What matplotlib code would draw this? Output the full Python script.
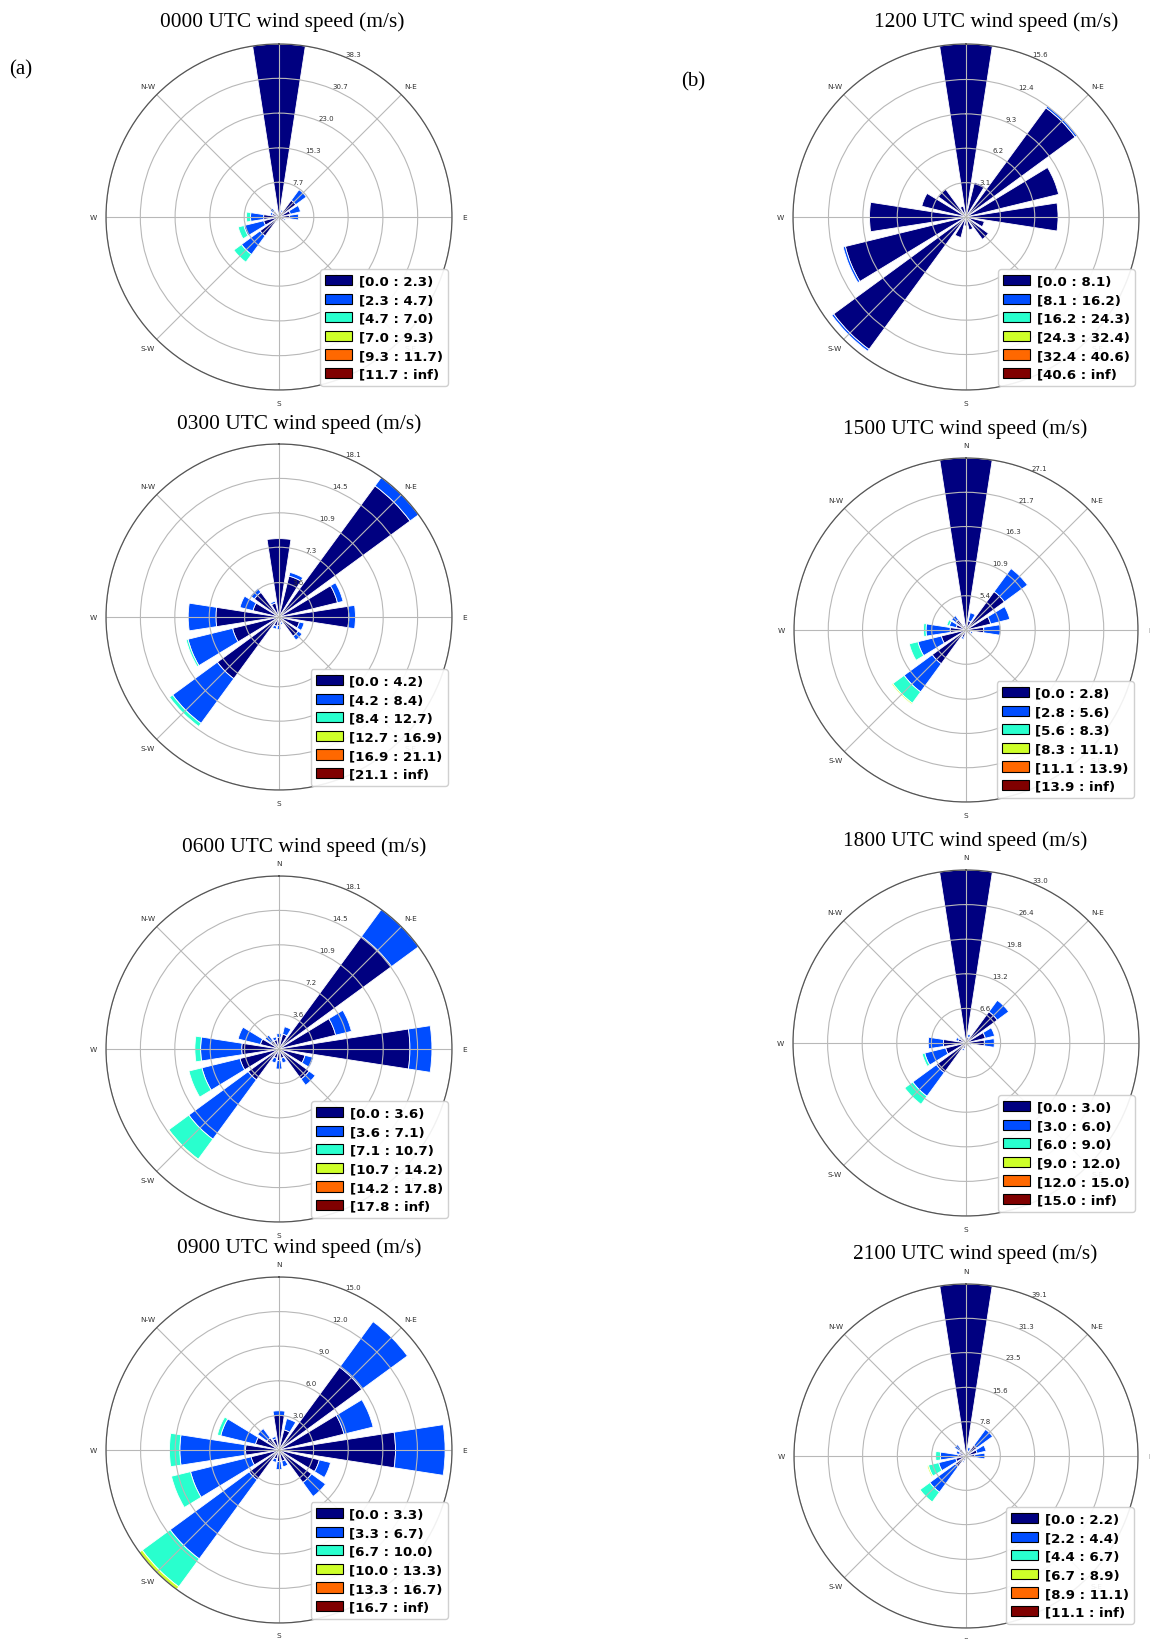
import numpy as np
import matplotlib
matplotlib.use("Agg")
import matplotlib.pyplot as plt
from matplotlib.patches import Rectangle

# 16 sectors, clockwise from North
directions = ["N", "NNE", "NE", "ENE", "E", "ESE", "SE", "SSE",
              "S", "SSW", "SW", "WSW", "W", "WNW", "NW", "NNW"]
compass_angles = [0, 45, 90, 135, 180, 225, 270, 315]
compass_labels = ["N", "N-E", "E", "S-E", "S", "S-W", "W", "N-W"]

# frequency (%) per speed bin (rows) and direction (columns)
freq_0000 = [
    [38.3, 1.2, 4.6, 2.6, 2.3, 1.2, 0.8, 0.5, 0.5, 1.0, 5.2, 3.5, 3.4, 1.5, 1.6, 0.8],
    [0.0, 0.4, 2.9, 2.3, 2.0, 0.3, 0.2, 0.0, 0.0, 0.3, 5.1, 4.5, 2.9, 0.5, 0.8, 0.2],
    [0.0, 0.0, 0.0, 0.0, 0.0, 0.0, 0.0, 0.0, 0.0, 0.0, 2.1, 1.3, 0.9, 0.0, 0.0, 0.0],
]
bins_0000 = [0.0, 2.3, 4.7, 7.0, 9.3, 11.7]
rings_0000 = ["7.7", "15.3", "23.0", "30.7", "38.3"]

freq_1200 = [
    [15.6, 3.2, 12.2, 8.6, 8.3, 1.7, 2.5, 1.2, 0.8, 1.9, 14.8, 11.2, 8.7, 4.1, 3.1, 1.0],
    [0.0, 0.0, 0.2, 0.0, 0.0, 0.0, 0.0, 0.0, 0.0, 0.0, 0.2, 0.2, 0.0, 0.0, 0.0, 0.0],
]
bins_1200 = [0.0, 8.1, 16.2, 24.3, 32.4, 40.6]
rings_1200 = ["3.1", "6.2", "9.3", "12.4", "15.6"]

freq_0300 = [
    [8.2, 4.4, 17.0, 6.3, 7.3, 2.2, 2.5, 0.6, 0.9, 1.0, 8.0, 5.0, 6.6, 2.8, 3.2, 1.5],
    [0.0, 0.4, 1.1, 0.6, 0.7, 0.5, 0.5, 0.2, 0.4, 0.3, 5.8, 4.8, 2.9, 1.4, 0.5, 0.2],
    [0.0, 0.0, 0.0, 0.0, 0.0, 0.0, 0.0, 0.0, 0.0, 0.0, 0.4, 0.2, 0.0, 0.0, 0.0, 0.0],
]
bins_0300 = [0.0, 4.2, 8.4, 12.7, 16.9, 21.1]
rings_0300 = ["3.6", "7.3", "10.9", "14.5", "18.1"]

freq_1500 = [
    [27.1, 1.5, 7.5, 4.0, 2.8, 0.8, 0.8, 0.5, 0.6, 1.2, 6.6, 4.0, 2.5, 1.6, 2.0, 0.8],
    [0.0, 1.3, 4.5, 3.1, 2.6, 0.3, 0.3, 0.0, 0.0, 0.3, 5.5, 3.8, 3.8, 1.1, 0.8, 0.2],
    [0.0, 0.0, 0.0, 0.0, 0.0, 0.0, 0.0, 0.0, 0.0, 0.0, 2.2, 1.4, 0.4, 0.4, 0.0, 0.0],
    [0.0, 0.0, 0.0, 0.0, 0.0, 0.0, 0.0, 0.0, 0.0, 0.0, 0.2, 0.0, 0.0, 0.0, 0.0, 0.0],
]
bins_1500 = [0.0, 2.8, 5.6, 8.3, 11.1, 13.9]
rings_1500 = ["5.4", "10.9", "16.3", "21.7", "27.1"]

freq_0600 = [
    [1.2, 1.6, 14.6, 6.1, 13.7, 2.8, 3.9, 1.0, 1.2, 1.0, 4.0, 4.2, 3.9, 2.0, 1.0, 1.0],
    [0.4, 0.8, 3.5, 1.7, 2.3, 0.9, 0.8, 0.5, 0.9, 0.5, 7.7, 4.1, 4.3, 2.4, 0.8, 0.3],
    [0.0, 0.0, 0.0, 0.0, 0.0, 0.0, 0.0, 0.0, 0.0, 0.0, 2.6, 1.4, 0.6, 0.0, 0.0, 0.0],
    [0.0, 0.0, 0.0, 0.0, 0.0, 0.0, 0.0, 0.0, 0.0, 0.0, 0.1, 0.0, 0.0, 0.0, 0.0, 0.0],
]
bins_0600 = [0.0, 3.6, 7.1, 10.7, 14.2, 17.8]
rings_0600 = ["3.6", "7.2", "10.9", "14.5", "18.1"]

freq_1800 = [
    [33.0, 1.2, 7.4, 3.8, 3.5, 0.8, 0.8, 0.5, 0.6, 1.2, 7.0, 4.0, 4.3, 1.5, 1.2, 0.8],
    [0.0, 0.5, 2.7, 1.8, 1.9, 0.3, 0.2, 0.0, 0.0, 0.3, 5.6, 4.1, 2.9, 0.5, 0.3, 0.2],
    [0.0, 0.0, 0.0, 0.0, 0.0, 0.0, 0.0, 0.0, 0.0, 0.0, 1.9, 0.5, 0.0, 0.0, 0.0, 0.0],
]
bins_1800 = [0.0, 3.0, 6.0, 9.0, 12.0, 15.0]
rings_1800 = ["6.6", "13.2", "19.8", "26.4", "33.0"]

freq_0900 = [
    [3.0, 1.8, 8.9, 5.8, 10.1, 3.6, 3.5, 1.0, 1.0, 0.8, 3.2, 2.5, 2.9, 2.1, 1.3, 1.0],
    [0.4, 1.0, 4.9, 2.6, 4.3, 1.0, 1.5, 0.5, 0.7, 0.3, 8.5, 5.4, 5.7, 3.1, 1.0, 0.2],
    [0.0, 0.0, 0.0, 0.0, 0.0, 0.0, 0.0, 0.0, 0.0, 0.0, 3.0, 1.7, 0.9, 0.3, 0.0, 0.0],
    [0.0, 0.0, 0.0, 0.0, 0.0, 0.0, 0.0, 0.0, 0.0, 0.0, 0.3, 0.0, 0.0, 0.0, 0.0, 0.0],
]
bins_0900 = [0.0, 3.3, 6.7, 10.0, 13.3, 16.7]
rings_0900 = ["3.0", "6.0", "9.0", "12.0", "15.0"]

freq_2100 = [
    [39.1, 1.2, 3.0, 2.6, 2.0, 0.8, 0.6, 0.4, 0.5, 1.2, 3.0, 2.4, 1.8, 1.5, 2.0, 0.8],
    [0.0, 0.8, 4.5, 2.1, 2.3, 0.2, 0.2, 0.0, 0.0, 0.3, 7.2, 4.0, 4.0, 0.8, 1.2, 0.1],
    [0.0, 0.0, 0.0, 0.0, 0.0, 0.0, 0.0, 0.0, 0.0, 0.0, 2.8, 2.4, 1.1, 0.0, 0.0, 0.0],
    [0.0, 0.0, 0.0, 0.0, 0.0, 0.0, 0.0, 0.0, 0.0, 0.0, 0.2, 0.3, 0.0, 0.0, 0.0, 0.0],
]
bins_2100 = [0.0, 2.2, 4.4, 6.7, 8.9, 11.1]
rings_2100 = ["7.8", "15.6", "23.5", "31.3", "39.1"]

titles = ["0000 UTC wind speed (m/s)", "1200 UTC wind speed (m/s)",
          "0300 UTC wind speed (m/s)", "1500 UTC wind speed (m/s)",
          "0600 UTC wind speed (m/s)", "1800 UTC wind speed (m/s)",
          "0900 UTC wind speed (m/s)", "2100 UTC wind speed (m/s)"]

# ---------------------------------------------------------------- layout
W, H = 1150, 1640
fig = plt.figure(figsize=(W / 100, H / 100), dpi=100)

panels = [
    # freq, bins, rings, (cx, cy, R), title (x, baseline y), show N label
    (freq_0000, bins_0000, rings_0000, (279, 218, 173), (282, 27), False),
    (freq_1200, bins_1200, rings_1200, (966, 218, 173), (996, 27), False),
    (freq_0300, bins_0300, rings_0300, (279, 618, 173), (299, 429.5), False),
    (freq_1500, bins_1500, rings_1500, (966, 631, 172), (965.5, 434.5), True),
    (freq_0600, bins_0600, rings_0600, (279, 1050, 173), (304, 852.5), True),
    (freq_1800, bins_1800, rings_1800, (966, 1044, 173), (965.5, 846.5), True),
    (freq_0900, bins_0900, rings_0900, (279, 1451, 173), (299, 1253.5), True),
    (freq_2100, bins_2100, rings_2100, (966, 1457, 172), (975, 1259.5), True),
]

cmap = matplotlib.colormaps["jet"]
colors = [cmap(v) for v in np.linspace(0, 1, 6)]
theta = np.deg2rad(np.arange(len(directions)) * 22.5)
width = np.deg2rad(22.5 * 0.78)

for (freq, bins, rings, (cx, cy, R), (tx, ty), show_n), title in zip(panels, titles):
    ax = fig.add_axes([(cx - R) / W, 1 - (cy + R) / H, 2 * R / W, 2 * R / H],
                      projection="polar")
    ax.set_theta_zero_location("N")
    ax.set_theta_direction(-1)
    bottom = np.zeros(len(directions))
    for k, seg in enumerate(freq):
        seg = np.asarray(seg, dtype=float)
        m = seg > 0
        ax.bar(theta[m], seg[m], width=width, bottom=bottom[m], color=colors[k],
               edgecolor="white", linewidth=0.6, align="center", zorder=1)
        bottom += seg
    radii = [float(r) for r in rings]
    ax.set_ylim(0, radii[-1])
    ax.set_rgrids(radii, labels=rings, angle=22.5, fontsize=5, color="#333333")
    labs = [l if (l != "N" or show_n) else "" for l in compass_labels]
    ax.set_thetagrids(compass_angles, labels=labs, fontsize=5.3, color="#333333")
    ax.tick_params(axis="x", pad=-1.5)
    ax.grid(color="#b8b8b8", linewidth=0.8)
    ax.spines["polar"].set_color("#555555")
    ax.spines["polar"].set_linewidth(0.9)

    labels = [f"[{bins[i]:.1f} : {bins[i + 1]:.1f})" for i in range(len(bins) - 1)]
    labels.append(f"[{bins[-1]:.1f} : inf)")
    handles = [Rectangle((0, 0), 1, 1, facecolor=c, edgecolor="black", linewidth=0.8)
               for c in colors]
    ax.legend(handles, labels, loc="lower right",
              prop={"family": "DejaVu Sans", "weight": "bold", "size": 9.6},
              labelspacing=0.42, handlelength=2.0, handleheight=0.8,
              handletextpad=0.5, borderpad=0.4, borderaxespad=0.3,
              framealpha=0.92)

    fig.text(tx / W, 1 - ty / H, title, ha="center", va="baseline",
             family="Liberation Serif", fontsize=15.4)

fig.text(21 / W, 1 - 70 / H, "(a)", ha="center", va="center",
         family="Liberation Serif", fontsize=15)
fig.text(693 / W, 1 - 82 / H, "(b)", ha="center", va="center",
         family="Liberation Serif", fontsize=15)

fig.savefig("out.png", dpi=100, facecolor="white")
